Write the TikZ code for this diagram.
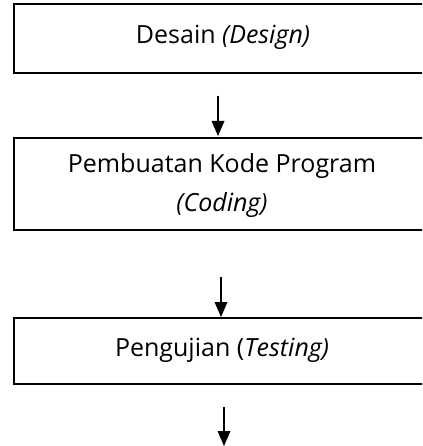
\documentclass[tikz,border=0pt]{standalone}
\usepackage{fontspec}
\setmainfont{Open Sans}
\tikzset{
  stagebox/.style={draw=black, line width=1.8pt},
  flowline/.style={line width=1.1pt},
  lbl/.style={font=\fontsize{25}{39}\selectfont, align=center, inner sep=0pt}
}
\newcommand\headat[1]{\fill (#1) -- ++(-6.5,15) -- ++(13,0) -- cycle;}
\begin{document}
\begin{tikzpicture}[x=1pt,y=1pt]
\useasboundingbox (0,0) rectangle (422,-446);
\clip (0,0) rectangle (422,-446);
\draw[stagebox] (14,-4) rectangle (440,-73);
\draw[stagebox] (14,-138) rectangle (440,-230);
\draw[stagebox] (14,-318) rectangle (440,-384);
\node[lbl] (t1) at (223,-37) {Desain \textit{(Design)}};
\node[lbl] (t2) at (222,-186) {Pembuatan Kode Program\\\textit{(Coding)}};
\node[lbl] (t3) at (222,-350) {Pengujian (\textit{Testing)}};
\coordinate (a1s) at (218,-96); \coordinate (a1e) at (218,-136);
\coordinate (a2s) at (221,-277); \coordinate (a2e) at (221,-317);
\coordinate (a3s) at (224,-407); \coordinate (a3e) at (224,-446);
\draw[flowline] (a1s) -- ([yshift=12]a1e); \headat{a1e}
\draw[flowline] (a2s) -- ([yshift=12]a2e); \headat{a2e}
\draw[flowline] (a3s) -- ([yshift=12]a3e); \headat{a3e}
\end{tikzpicture}
\end{document}
